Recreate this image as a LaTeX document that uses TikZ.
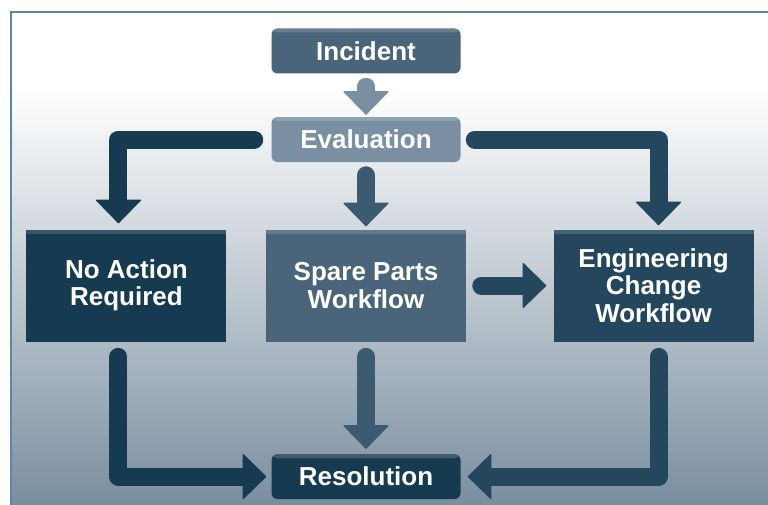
\documentclass[tikz,border=0pt]{standalone}
\usepackage{fontspec}
\setmainfont{Liberation Sans}
\usetikzlibrary{positioning, arrows.meta}
\definecolor{FrameColor}{RGB}{93, 134, 163}
\definecolor{BgBottom}{RGB}{122, 142, 160}
\definecolor{SlateMid}{RGB}{74, 101, 121}
\definecolor{SlateLight}{RGB}{122, 143, 161}
\definecolor{SlateArrow}{RGB}{61, 91, 112}
\definecolor{NavyDark}{RGB}{22, 58, 80}
\definecolor{NavyMid}{RGB}{36, 71, 93}
\tikzset{
    stage/.style={
        rectangle,
        rounded corners=4.5pt,
        text=white,
        font=\fontsize{19.5}{20.5}\selectfont\bfseries,
        minimum width=141.75pt,
        minimum height=33.75pt,
        inner sep=0pt,
        path picture={\fill[white, opacity=0.18] (path picture bounding box.north west) rectangle ([yshift=-3pt]path picture bounding box.north east);}
    },
    workflow/.style={
        rectangle,
        text=white,
        align=center,
        font=\fontsize{19.5}{20.5}\selectfont\bfseries,
        minimum width=150pt,
        minimum height=84pt,
        inner sep=0pt,
        path picture={\fill[white, opacity=0.15] (path picture bounding box.north west) rectangle ([yshift=-3pt]path picture bounding box.north east);}
    },
    pipe/.style={
        line width=13.5pt,
        line cap=round,
        line join=round,
        -{Triangle[width=35pt, length=18pt, line width=1pt, round]}
    }
}

\begin{document}
\begin{tikzpicture}[x=0.75pt, y=-0.75pt]

    % ============================================================================
    % BACKGROUND
    % ============================================================================

    \useasboundingbox (0,0) rectangle (768,505);
    \fill[white] (0,0) rectangle (768,505);
    \shade[top color=white, bottom color=BgBottom] (11,88) rectangle (768,505);
    \draw[FrameColor, line width=1.1pt] (11,505) -- (11,12) -- (768,12);

    % ============================================================================
    % STAGES
    % ============================================================================

    % Top: Incident
    \node[stage, fill=SlateMid] (Incident) at (366,51) {Incident};

    % Below: Evaluation
    \node[stage, fill=SlateLight, below=32.25pt of Incident] (Evaluation) {Evaluation};

    % Middle: Spare Parts
    \node[workflow, fill=SlateMid, below=50.25pt of Evaluation] (SpareParts) {Spare Parts\\Workflow};

    % Left: No Action
    \node[workflow, fill=NavyDark, left=29.25pt of SpareParts] (NoAction) {No Action\\Required};

    % Right: Engineering Change
    \node[workflow, fill=NavyMid, right=65.25pt of SpareParts] (EngChange) {Engineering\\Change\\Workflow};

    % Bottom: Resolution
    \node[stage, fill=NavyDark, below=84pt of SpareParts] (Resolution) {Resolution};

    % ============================================================================
    % FLOWS
    % ============================================================================

    % Incident to Evaluation
    \draw[pipe, SlateLight, shorten <=9.75pt, shorten >=1.5pt] (Incident.south) -- (Evaluation.north);

    % Evaluation to the three workflows
    \draw[pipe, SlateArrow, shorten <=9.75pt, shorten >=2.25pt] (Evaluation.south) -- (SpareParts.north);
    \draw[pipe, NavyDark, shorten <=12.75pt, shorten >=4.5pt] (Evaluation.west) -| ([xshift=-6pt]NoAction.north);
    \draw[pipe, NavyMid, shorten <=10.5pt, shorten >=3pt] (Evaluation.east) -| ([xshift=3.75pt]EngChange.north);

    % Spare Parts to Engineering Change
    \draw[pipe, NavyMid, shorten <=11.25pt, shorten >=5.25pt] (SpareParts.east) -- (EngChange.west);

    % Workflows to Resolution
    \draw[pipe, SlateArrow, shorten <=11.25pt, shorten >=3.75pt] (SpareParts.south) -- (Resolution.north);
    \draw[pipe, NavyDark, shorten <=11.25pt, shorten >=3.75pt] ([xshift=-6pt]NoAction.south) |- (Resolution.west);
    \draw[pipe, NavyMid, shorten <=11.25pt, shorten >=5.25pt] ([xshift=3.75pt]EngChange.south) |- (Resolution.east);

\end{tikzpicture}
\end{document}
